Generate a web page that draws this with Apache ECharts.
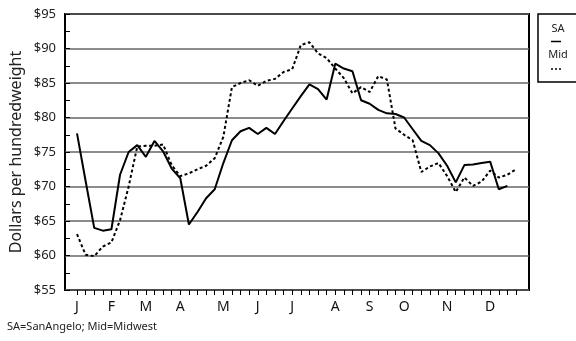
<!DOCTYPE html>
<html>
<head>
<meta charset="utf-8">
<script src="https://cdn.jsdelivr.net/npm/echarts@6/dist/echarts.min.js"></script>
<style>html,body{margin:0;padding:0;background:#fff}#c{width:576px;height:341px}</style>
</head>
<body>
<div id="c"></div>
<script>
// Weekly categories (52 weeks)
var weeks = ['W1','W2','W3','W4','W5','W6','W7','W8','W9','W10','W11','W12','W13','W14','W15','W16','W17','W18','W19','W20','W21','W22','W23','W24','W25','W26','W27','W28','W29','W30','W31','W32','W33','W34','W35','W36','W37','W38','W39','W40','W41','W42','W43','W44','W45','W46','W47','W48','W49','W50','W51','W52'];
// Month labels and the week index they sit on
var monthLetters = ['J','F','M','A','M','J','J','A','S','O','N','D'];
var monthWeeks   = [0, 4, 8, 12, 17, 21, 25, 30, 34, 38, 43, 48];
// San Angelo ($/cwt)
var sanAngelo = [77.7, 70.8, 64.0, 63.6, 63.8, 71.7, 75.0, 76.0, 74.3, 76.6, 75.1, 72.6, 71.2, 64.5, 66.3, 68.3, 69.6, 73.4, 76.7, 78.0, 78.5, 77.6, 78.5, 77.6, 79.5, 81.3, 83.1, 84.8, 84.1, 82.6, 87.8, 87.1, 86.7, 82.5, 82.0, 81.1, 80.6, 80.5, 80.0, 78.3, 76.6, 76.0, 74.8, 73.0, 70.6, 73.1, 73.2, 73.4, 73.6, 69.6, 70.1];
// Midwest ($/cwt)
var midwest = [63.1, 60.1, 59.9, 61.3, 61.9, 65.1, 70.0, 75.8, 75.9, 75.9, 76.1, 73.1, 71.5, 71.9, 72.5, 73.0, 74.1, 77.2, 84.4, 85.0, 85.4, 84.6, 85.3, 85.6, 86.6, 87.0, 90.5, 90.9, 89.3, 88.6, 87.1, 85.7, 83.5, 84.4, 83.7, 86.0, 85.5, 78.4, 77.5, 76.7, 72.1, 72.9, 73.4, 71.5, 69.2, 71.3, 70.1, 70.7, 72.3, 71.3, 71.7, 72.5];
// Y-axis range
var yMin = 55, yMax = 95, yStep = 5;

var font = 'Noto Sans';
var chart = echarts.init(document.getElementById('c'), null, {renderer: 'canvas'});
var monthMap = {};
monthWeeks.forEach(function (w, k) { monthMap[w] = monthLetters[k]; });

chart.setOption({
  animation: false,
  backgroundColor: '#fff',
  textStyle: {fontFamily: font},
  grid: [
    {left: 65, top: 14, width: 464, height: 276, show: true, borderColor: '#000', borderWidth: 2, backgroundColor: 'transparent'},
    {left: 77, top: 14, width: 439, height: 276}
  ],
  xAxis: [
    {gridIndex: 0, type: 'value', min: 0, max: 1, show: false},
    {gridIndex: 1, type: 'category', data: weeks, boundaryGap: false,
      axisLine: {show: false},
      axisTick: {show: true, interval: 0, length: 5, lineStyle: {color: '#000', width: 1}},
      axisLabel: {interval: 0, margin: 10, fontSize: 14, color: '#111', fontFamily: font,
        formatter: function (v, i) { return monthMap[i] || ''; }},
      splitLine: {show: false}}
  ],
  yAxis: [
    {gridIndex: 0, type: 'value', min: yMin, max: yMax, interval: yStep,
      axisLine: {show: false},
      axisTick: {show: true, inside: true, length: 5, lineStyle: {color: '#000', width: 1}},
      minorTick: {show: true, splitNumber: 2, length: 5, lineStyle: {color: '#000', width: 1}},
      axisLabel: {fontSize: 13, color: '#222', margin: 9, fontFamily: font, formatter: function (v) { return '$' + v; }},
      splitLine: {show: true, lineStyle: {color: '#666', width: 1.5}}},
    {gridIndex: 1, type: 'value', min: yMin, max: yMax, show: false, splitLine: {show: false}}
  ],
  series: [
    {name: 'SA', type: 'line', xAxisIndex: 1, yAxisIndex: 1, data: sanAngelo, symbol: 'none',
      lineStyle: {color: '#000', width: 2, type: 'solid'}},
    {name: 'Mid', type: 'line', xAxisIndex: 1, yAxisIndex: 1, data: midwest, symbol: 'none',
      lineStyle: {color: '#000', width: 2, type: [3, 2.5]}}
  ],
  graphic: [
    {type: 'text', x: 16, y: 152, rotation: Math.PI / 2, style: {text: 'Dollars per hundredweight', fontSize: 16, fill: '#222', fontFamily: font, align: 'center', verticalAlign: 'middle'}},
    {type: 'rect', shape: {x: 538, y: 14, width: 50, height: 68}, style: {fill: '#fff', stroke: '#000', lineWidth: 1.5}},
    {type: 'text', style: {x: 558, y: 29, text: 'SA', fontSize: 11, fill: '#222', align: 'center', verticalAlign: 'middle', fontFamily: font}},
    {type: 'line', shape: {x1: 551, y1: 41.5, x2: 561, y2: 41.5}, style: {stroke: '#000', lineWidth: 1.5}},
    {type: 'text', style: {x: 558, y: 55, text: 'Mid', fontSize: 11, fill: '#222', align: 'center', verticalAlign: 'middle', fontFamily: font}},
    {type: 'line', shape: {x1: 551, y1: 69, x2: 561, y2: 69}, style: {stroke: '#000', lineWidth: 1.5, lineDash: [2, 2]}},
    {type: 'text', style: {x: 7, y: 327, text: 'SA=SanAngelo; Mid=Midwest', fontSize: 11, fill: '#222', verticalAlign: 'middle', fontFamily: font}}
  ]
});
</script>
</body>
</html>
